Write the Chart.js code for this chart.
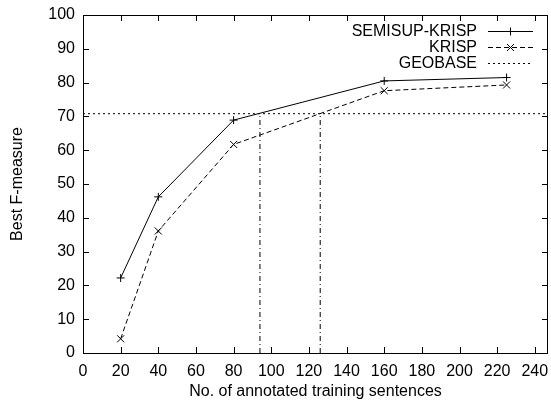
<!DOCTYPE html>
<html>
<head>
<meta charset="utf-8">
<script src="https://cdn.jsdelivr.net/npm/chart.js@4/dist/chart.umd.min.js"></script>
<style>
html,body{margin:0;padding:0;background:#fff;}
#wrap{width:551px;height:403px;}
</style>
</head>
<body>
<div id="wrap"><canvas id="c" width="551" height="403"></canvas></div>
<script>
const xValues = [20, 40, 80, 160, 225];
const semisupKrisp = [22.2, 46.2, 68.9, 80.5, 81.5];
const krisp = [4.2, 36.1, 61.7, 77.6, 79.3];
const geobaseLevel = 70.8;
const crossPoints = [94, 126];
const seriesNames = ['SEMISUP-KRISP', 'KRISP', 'GEOBASE'];
const xMin = 0, xMax = 247, xStep = 20, xTickMax = 240;
const yMin = 0, yMax = 100, yStep = 10;

const FONT = "'Liberation Sans', Arial, Helvetica, sans-serif";

const datasets = [
  {
    label: seriesNames[0],
    data: xValues.map((x, i) => ({x, y: semisupKrisp[i]})),
    borderColor: '#000', borderWidth: 1, borderDash: [],
    pointStyle: 'cross', pointRadius: 4, pointBorderColor: '#000', pointBorderWidth: 1,
    markerType: 'plus'
  },
  {
    label: seriesNames[1],
    data: xValues.map((x, i) => ({x, y: krisp[i]})),
    borderColor: '#000', borderWidth: 1, borderDash: [5, 3],
    pointStyle: 'crossRot', pointRadius: 5, pointBorderColor: '#000', pointBorderWidth: 1,
    markerType: 'cross'
  },
  {
    label: seriesNames[2],
    data: [{x: xMin, y: geobaseLevel}, {x: xMax, y: geobaseLevel}],
    borderColor: '#000', borderWidth: 1, borderDash: [2, 3],
    pointRadius: 0, markerType: null
  }
];
crossPoints.forEach(cx => {
  datasets.push({
    label: '',
    data: [{x: cx, y: yMin}, {x: cx, y: geobaseLevel}],
    borderColor: '#000', borderWidth: 1, borderDash: [5, 3, 1, 3],
    pointRadius: 0, markerType: null
  });
});

function drawMarker(ctx, type, x, y) {
  ctx.beginPath();
  if (type === 'plus') {
    ctx.moveTo(x - 4, y); ctx.lineTo(x + 4, y);
    ctx.moveTo(x, y - 4); ctx.lineTo(x, y + 4);
  } else if (type === 'cross') {
    ctx.moveTo(x - 3.5, y - 3.5); ctx.lineTo(x + 3.5, y + 3.5);
    ctx.moveTo(x - 3.5, y + 3.5); ctx.lineTo(x + 3.5, y - 3.5);
  }
  ctx.stroke();
}

const framePlugin = {
  id: 'frame',
  afterDraw(chart) {
    const {ctx, chartArea: {left, right, top, bottom}, scales: {x, y}} = chart;
    ctx.save();
    ctx.strokeStyle = '#000';
    ctx.lineWidth = 1;
    ctx.setLineDash([]);
    ctx.strokeRect(Math.round(left) + 0.5, Math.round(top) + 0.5, Math.round(right - left) - 1, Math.round(bottom - top));
    const tl = 6;
    ctx.beginPath();
    x.ticks.forEach(t => {
      const px = Math.round(x.getPixelForValue(t.value)) + 0.5;
      ctx.moveTo(px, bottom); ctx.lineTo(px, bottom - tl);
      ctx.moveTo(px, top); ctx.lineTo(px, top + tl);
    });
    y.ticks.forEach(t => {
      const py = Math.round(y.getPixelForValue(t.value)) + 0.5;
      ctx.moveTo(left, py); ctx.lineTo(left + tl, py);
      ctx.moveTo(right, py); ctx.lineTo(right - tl, py);
    });
    ctx.stroke();

    // legend (gnuplot style: text right-aligned, sample to the right)
    ctx.font = '16px ' + FONT;
    ctx.fillStyle = '#000';
    ctx.textAlign = 'right';
    ctx.textBaseline = 'middle';
    const textRight = right - 71;
    const sx0 = right - 60, sx1 = right - 15;
    for (let i = 0; i < 3; i++) {
      const ds = chart.data.datasets[i];
      const ry = Math.round(top + 16 + i * 16) + 0.5;
      ctx.fillText(ds.label, textRight, ry);
      ctx.setLineDash(ds.borderDash || []);
      ctx.beginPath();
      ctx.moveTo(sx0, ry); ctx.lineTo(sx1, ry);
      ctx.stroke();
      ctx.setLineDash([]);
      if (ds.markerType) drawMarker(ctx, ds.markerType, (sx0 + sx1) / 2, ry);
    }
    ctx.restore();
  }
};

new Chart(document.getElementById('c'), {
  type: 'line',
  data: {datasets},
  options: {
    responsive: false,
    animation: false,
    events: [],
    layout: {autoPadding: false, padding: {left: 0, right: 3, top: 15, bottom: 0}},
    plugins: {legend: {display: false}, tooltip: {enabled: false}},
    scales: {
      x: {
        type: 'linear', min: xMin, max: xMax,
        afterFit(s) { s.height = 50; s.paddingLeft = 0; s.paddingRight = 0; },
        afterBuildTicks(s) { s.ticks = s.ticks.filter(t => t.value <= xTickMax && t.value % xStep === 0); },
        grid: {display: false, drawTicks: false},
        border: {display: false},
        ticks: {stepSize: xStep, includeBounds: false, padding: 9, color: '#000', font: {family: FONT, size: 16}, maxRotation: 0, autoSkip: false},
        title: {display: true, text: 'No. of annotated training sentences', color: '#000', font: {family: FONT, size: 16}, padding: {top: 0, bottom: 2}}
      },
      y: {
        type: 'linear', min: yMin, max: yMax,
        afterFit(s) { s.width = 83; s.paddingTop = 0; s.paddingBottom = 0; },
        grid: {display: false, drawTicks: false},
        border: {display: false},
        ticks: {stepSize: yStep, padding: 8, color: '#000', font: {family: FONT, size: 16}},
        title: {display: true, text: 'Best F-measure', color: '#000', font: {family: FONT, size: 16}, padding: {top: 8, bottom: 0}}
      }
    }
  },
  plugins: [framePlugin]
});
</script>
</body>
</html>
